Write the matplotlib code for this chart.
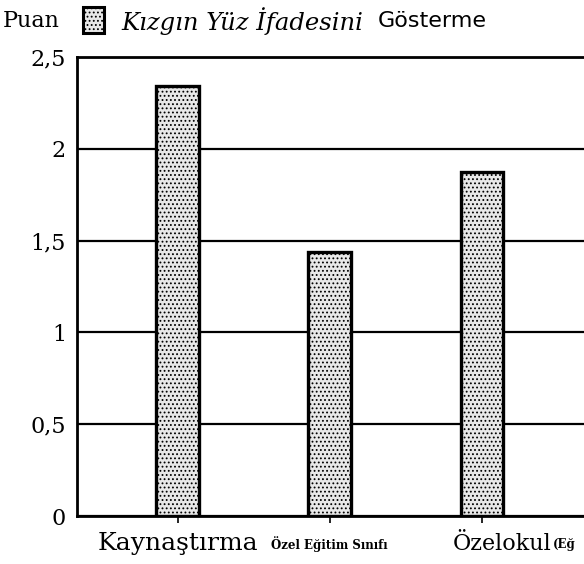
import matplotlib
matplotlib.use("Agg")
import matplotlib.pyplot as plt
from matplotlib.patches import Rectangle

categories = ["Kaynaştırma", "Özel Eğitim Sınıfı", "Özelokul"]
values = [2.34, 1.44, 1.875]
yticks = [0, 0.5, 1, 1.5, 2, 2.5]
ytick_labels = ["0", "0,5", "1", "1,5", "2", "2,5"]

plt.rcParams["hatch.color"] = "#4a4a4a"
plt.rcParams["hatch.linewidth"] = 0.8

fig = plt.figure(figsize=(5.84, 5.64), dpi=100)
ax = fig.add_axes([0.132, 0.085, 0.868, 0.814])

x = list(range(len(categories)))
ax.bar(x, values, width=0.28, facecolor="#e8e8e8", edgecolor="black",
       linewidth=2.4, hatch="....", zorder=3)

ax.set_xlim(-0.66, 2.67)
ax.set_ylim(0, 2.5)
ax.set_yticks(yticks)
ax.set_yticklabels(ytick_labels, family="DejaVu Serif", fontsize=16)
ax.tick_params(axis="y", length=0, pad=8)
ax.yaxis.grid(True, color="black", linewidth=1.6, zorder=0)
ax.set_axisbelow(True)
ax.set_xticks(x)
ax.set_xticklabels([])
ax.tick_params(axis="x", direction="out", length=5, width=1.2)
for s in ["left", "bottom", "top"]:
    ax.spines[s].set_linewidth(2)
ax.spines["right"].set_visible(False)

# category labels (not centred the same way in the original)
ax.text(0, -0.15, categories[0], ha="center", va="center", family="DejaVu Serif",
        fontsize=18)
ax.text(1, -0.15, categories[1], ha="center", va="center", family="DejaVu Serif",
        fontsize=8.5, fontweight="bold")
ax.text(1.81, -0.15, categories[2], ha="left", va="center", family="DejaVu Serif",
        fontsize=16)
ax.text(2.465, -0.155, "(Eğ", ha="left", va="center", family="DejaVu Serif",
        fontsize=8.5, fontweight="bold")

fig.text(0.005, 0.962, "Puan", family="DejaVu Serif", fontsize=16, va="center")
fig.patches.append(Rectangle((0.142, 0.942), 0.036, 0.046, transform=fig.transFigure,
                             facecolor="#e8e8e8", edgecolor="black", linewidth=2.2,
                             hatch="....", figure=fig))
fig.text(0.207, 0.962, "Kızgın Yüz İfadesini", family="DejaVu Serif", style="italic",
         fontsize=17.5, va="center")
fig.text(0.647, 0.962, "Gösterme", family="DejaVu Sans", fontsize=16, va="center")

fig.savefig("out.png", dpi=100)
